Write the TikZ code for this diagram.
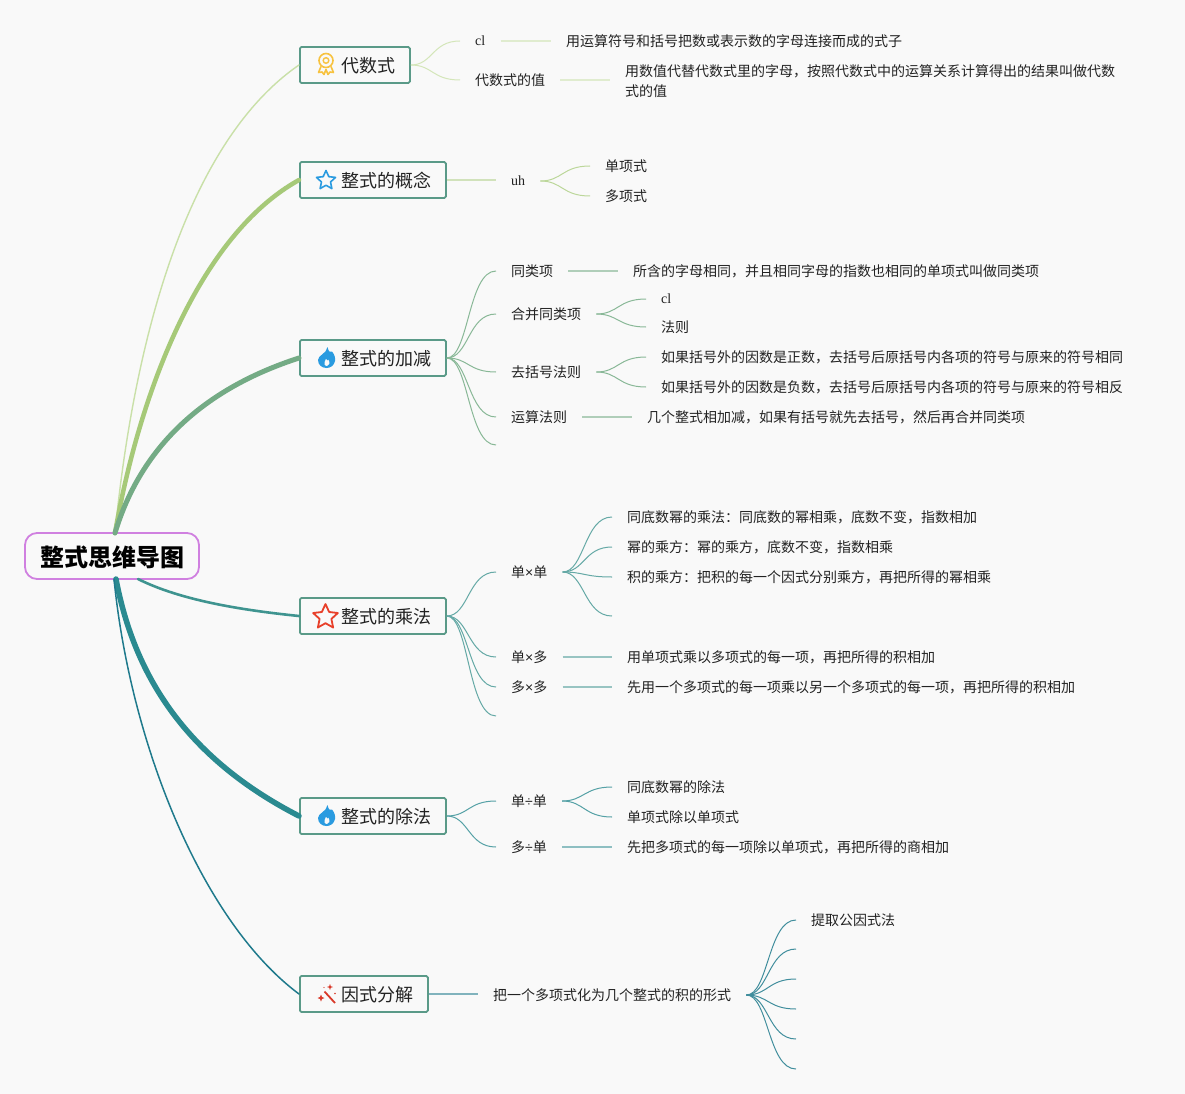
\documentclass[tikz,border=0pt]{standalone}
\usepackage{fontspec}
\setmainfont{Noto Sans CJK SC}
\newfontfamily\latinserif{Liberation Serif}
\newfontfamily\latinsans{Liberation Sans}
\usetikzlibrary{shapes.geometric}
\definecolor{bg}{HTML}{F9F9F9}
\definecolor{ca}{HTML}{C9E0A8}
\definecolor{cb}{HTML}{A6C978}
\definecolor{cc}{HTML}{74AB85}
\definecolor{cd}{HTML}{3F9490}
\definecolor{ce}{HTML}{2A8A90}
\definecolor{cf}{HTML}{1F7A8C}
\definecolor{boxline}{HTML}{5A9A88}
\definecolor{rootline}{HTML}{D080E0}
\definecolor{txt}{HTML}{222222}
\definecolor{iconblue}{HTML}{2A9BE0}
\definecolor{iconred}{HTML}{E8402A}
\definecolor{iconyellow}{HTML}{F7C23F}
\definecolor{iconwand}{HTML}{D93A2A}
\newcommand{\scurve}[3]{\draw[#1] (#2) .. controls +(22,0) and +(-28,0) .. (#3);}
\newcommand{\tm}{{\latinsans ×}}
\newcommand{\dv}{{\latinsans ÷}}
\tikzset{
  topic/.style={draw=boxline,line width=1.8pt,fill=bg,rounded corners=1.5pt,anchor=west,
    minimum height=36pt,inner ysep=0pt,inner xsep=14pt,font=\fontsize{18}{20}\selectfont,text=txt,align=right,
    text height=17pt,text depth=1.3pt},
  rootbox/.style={draw=rootline,line width=1.8pt,fill=bg,rounded corners=12pt,minimum width=174pt,
    minimum height=46pt,inner sep=0pt,font=\fontsize{24}{28}\selectfont\bfseries,text=black,
    text height=22pt,text depth=0.8pt},
  leaf/.style={anchor=west,inner xsep=15pt,inner ysep=1pt,font=\fontsize{14}{20}\selectfont,text=txt,align=left},
  serifleaf/.style={leaf,font=\fontsize{14}{20}\selectfont\latinserif},
  trunk/.style={line cap=round},
  twiga/.style={color=ca!80!white,line width=1pt},
  twigb/.style={color=cb!75!white,line width=1pt},
  twigc/.style={color=cc!85!white,line width=1pt},
  twigd/.style={color=cd!80!white,line width=1pt},
  twige/.style={color=ce!80!white,line width=1pt},
  twigf/.style={color=cf!85!white,line width=1pt},
  stem/.style={line width=1.4pt,opacity=0.65},
}
\begin{document}
\begin{tikzpicture}[x=1pt,y=-1pt]
\fill[bg] (0,0) rectangle (1185,1094);
\useasboundingbox (0,0) rectangle (1185,1094);

% root and topics
\node[rootbox] (root) at (112,556) {整式思维导图};
\coordinate (rt) at (115,533);
\coordinate (rb) at (116,579);
\coordinate (rc) at (114,579);
\coordinate (rm) at (138,579);
\node[topic,text width=82pt] (t1) at (299,65) {代数式};
\node[topic,text width=118pt] (t2) at (299,180) {整式的概念};
\node[topic,text width=118pt] (t3) at (299,358) {整式的加减};
\node[topic,text width=118pt] (t4) at (299,616) {整式的乘法};
\node[topic,text width=118pt] (t5) at (299,816) {整式的除法};
\node[topic,text width=100pt] (t6) at (299,994) {因式分解};

% trunks
\draw[trunk,color=ca,line width=1.4pt] (rt) .. controls (135,330) and (190,140) .. (t1.west);
\draw[trunk,color=cb,line width=4.5pt] (rt) .. controls (140,390) and (200,235) .. (t2.west);
\draw[trunk,color=cc,line width=5pt] (rt) .. controls (140,450) and (200,390) .. (t3.west);
\draw[trunk,color=cd,line width=2.6pt] (rm) .. controls (180,600) and (240,610) .. (t4.west);
\draw[trunk,color=ce,line width=5.5pt] (rb) .. controls (135,680) and (190,760) .. (t5.west);
\draw[trunk,color=cf,line width=1.5pt] (rc) .. controls (130,740) and (200,920) .. (t6.west);

% branch 1
\node[serifleaf] (a1) at (460,41) {cl};
\node[leaf] (a1d) at (551,41) {用运算符号和括号把数或表示数的字母连接而成的式子};
\node[leaf] (a2) at (460,80) {代数式的值};
\node[leaf] (a2d) at (610,81) {用数值代替代数式里的字母，按照代数式中的运算关系计算得出的结果叫做代数\\式的值};
\scurve{twiga}{t1.east}{a1.west}
\scurve{twiga}{t1.east}{a2.west}
\draw[twiga,stem] (a1.east) -- (a1d.west);
\draw[twiga,stem] (a2.east) -- (a2.east -| a2d.west);

% branch 2
\node[serifleaf] (b1) at (496,181) {uh};
\node[leaf] (b11) at (590,166) {单项式};
\node[leaf] (b12) at (590,196) {多项式};
\draw[twigb,stem] (t2.east) -- (t2.east -| b1.west);
\scurve{twigb}{b1.east}{b11.west}
\scurve{twigb}{b1.east}{b12.west}

% branch 3
\node[leaf] (c1) at (496,271) {同类项};
\node[leaf] (c1d) at (618,271) {所含的字母相同，并且相同字母的指数也相同的单项式叫做同类项};
\node[leaf] (c2) at (496,314) {合并同类项};
\node[serifleaf] (c21) at (646,299) {cl};
\node[leaf] (c22) at (646,327) {法则};
\node[leaf] (c3) at (496,372) {去括号法则};
\node[leaf] (c31) at (646,357) {如果括号外的因数是正数，去括号后原括号内各项的符号与原来的符号相同};
\node[leaf] (c32) at (646,387) {如果括号外的因数是负数，去括号后原括号内各项的符号与原来的符号相反};
\node[leaf] (c4) at (496,417) {运算法则};
\node[leaf] (c4d) at (632,417) {几个整式相加减，如果有括号就先去括号，然后再合并同类项};
\coordinate (c5) at (496,445);
\foreach \k in {c1.west,c2.west,c3.west,c4.west,c5}{\scurve{twigc}{t3.east}{\k}}
\draw[twigc,stem] (c1.east) -- (c1d.west);
\scurve{twigc}{c2.east}{c21.west}
\scurve{twigc}{c2.east}{c22.west}
\scurve{twigc}{c3.east}{c31.west}
\scurve{twigc}{c3.east}{c32.west}
\draw[twigc,stem] (c4.east) -- (c4d.west);

% branch 4
\node[leaf] (d1) at (496,572) {单\tm 单};
\node[leaf] (d11) at (612,517) {同底数幂的乘法：同底数的幂相乘，底数不变，指数相加};
\node[leaf] (d12) at (612,547) {幂的乘方：幂的乘方，底数不变，指数相乘};
\node[leaf] (d13) at (612,577) {积的乘方：把积的每一个因式分别乘方，再把所得的幂相乘};
\coordinate (d14) at (612,616);
\node[leaf] (d2) at (496,657) {单\tm 多};
\node[leaf] (d2d) at (612,657) {用单项式乘以多项式的每一项，再把所得的积相加};
\node[leaf] (d3) at (496,687) {多\tm 多};
\node[leaf] (d3d) at (612,687) {先用一个多项式的每一项乘以另一个多项式的每一项，再把所得的积相加};
\coordinate (d4) at (496,716);
\foreach \k in {d1.west,d2.west,d3.west,d4}{\scurve{twigd}{t4.east}{\k}}
\foreach \k in {d11.west,d12.west,d13.west,d14}{\scurve{twigd}{d1.east}{\k}}
\draw[twigd,stem] (d2.east) -- (d2d.west);
\draw[twigd,stem] (d3.east) -- (d3d.west);

% branch 5
\node[leaf] (e1) at (496,801) {单\dv 单};
\node[leaf] (e11) at (612,787) {同底数幂的除法};
\node[leaf] (e12) at (612,817) {单项式除以单项式};
\node[leaf] (e2) at (496,847) {多\dv 单};
\node[leaf] (e2d) at (612,847) {先把多项式的每一项除以单项式，再把所得的商相加};
\scurve{twige}{t5.east}{e1.west}
\scurve{twige}{t5.east}{e2.west}
\scurve{twige}{e1.east}{e11.west}
\scurve{twige}{e1.east}{e12.west}
\draw[twige,stem] (e2.east) -- (e2d.west);

% branch 6
\node[leaf] (f1) at (478,995) {把一个多项式化为几个整式的积的形式};
\node[leaf] (f11) at (796,920) {提取公因式法};
\coordinate (f12) at (796,949);
\coordinate (f13) at (796,979);
\coordinate (f14) at (796,1009);
\coordinate (f15) at (796,1039);
\coordinate (f16) at (796,1069);
\draw[twigf,stem] (t6.east) -- (t6.east -| f1.west);
\foreach \k in {f11.west,f12,f13,f14,f15,f16}{\scurve{twigf}{f1.east}{\k}}

% icons
\begin{scope}[color=iconyellow]
\draw[line width=1.6pt] (326,60.5) circle (7);
\draw[line width=1.4pt] (326,60.5) circle (2.8);
\draw[line width=1.6pt,line join=round] (321,66.5) -- (318.5,72.5) -- (322,72) -- (324,74.5) -- (326,69.5) -- (328,74.5) -- (330,72) -- (333.5,72.5) -- (331,66.5);
\end{scope}
\node[star,star points=5,star point ratio=2.1,draw=iconblue,line width=1.6pt,line join=round,minimum size=20pt,inner sep=0pt] (starb) at (326,180.5) {};
\node[star,star points=5,star point ratio=2.1,draw=iconred,line width=1.8pt,line join=round,minimum size=26pt,inner sep=0pt] (starr) at (325.5,617) {};
\foreach \cy in {358,816}{
\fill[iconblue,even odd rule,shift={(0,\cy)}] (327.5,-11) .. controls (328.5,-6) and (330.5,-5) .. (332,-6.5) .. controls (335,-3) and (335.5,1) .. (335,3)
 .. controls (334,8) and (330,10) .. (326.5,10) .. controls (322,10) and (318,7) .. (318,2) .. controls (318,-3) and (326.5,-4) .. (327.5,-11) -- cycle
 (326.8,8.3) .. controls (329.5,8) and (330.5,5) .. (328.5,1.5) .. controls (328,3) and (326.5,2.5) .. (326,0.5) .. controls (325,3) and (323.5,5) .. (324.5,7) .. controls (325,8) and (326,8.3) .. (326.8,8.3) -- cycle;
}
\begin{scope}[color=iconwand]
\draw[line width=1.8pt] (324.5,991.5) -- (335,1003);
\fill (321,994.5) -- (322,997) -- (324.5,998) -- (322,999) -- (321,1001.5) -- (320,999) -- (317.5,998) -- (320,997) -- cycle;
\fill (330,984) -- (330.8,986.2) -- (333,987) -- (330.8,987.8) -- (330,990) -- (329.2,987.8) -- (327,987) -- (329.2,986.2) -- cycle;
\fill (335,993.5) circle (0.9);
\fill (324,987.5) circle (0.7);
\end{scope}
\end{tikzpicture}
\end{document}
